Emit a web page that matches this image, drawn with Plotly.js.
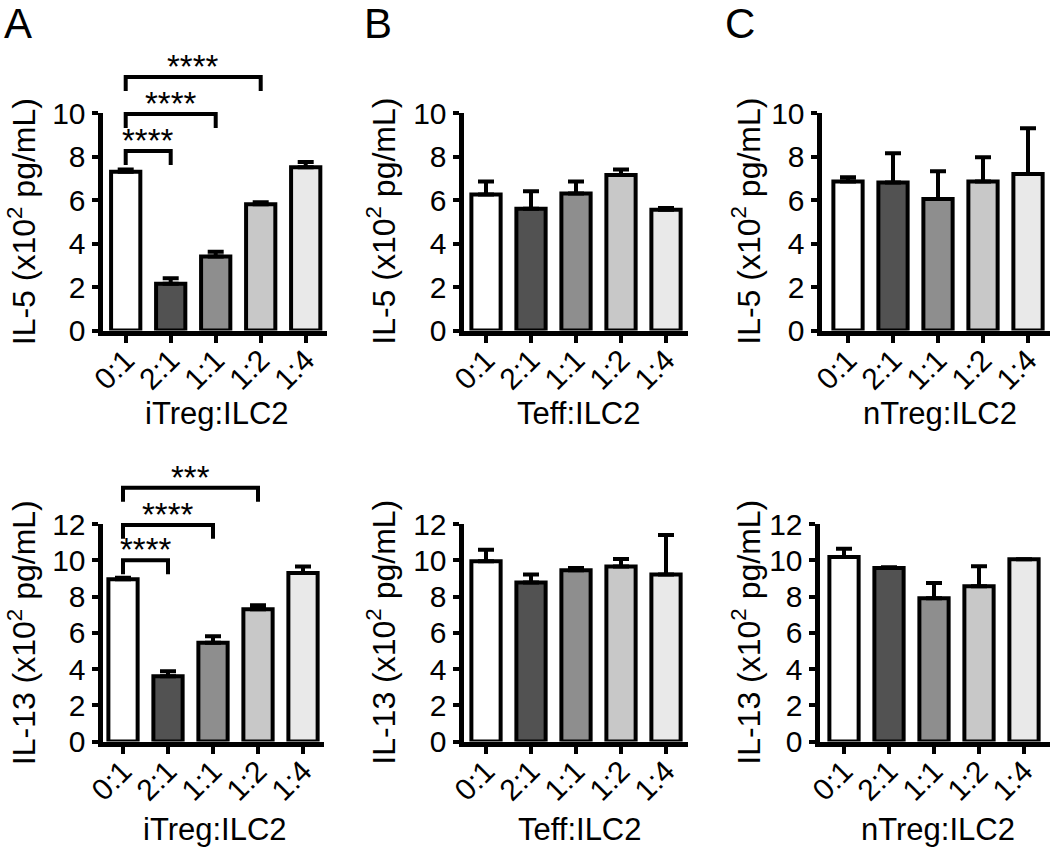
<!DOCTYPE html>
<html><head><meta charset="utf-8">
<script src="https://cdn.plot.ly/plotly-3.0.1.min.js"></script>
<style>html,body{margin:0;padding:0;background:#fff}</style>
</head><body><div id="chart" style="width:1050px;height:848px"></div>
<script>
// ---------- data ----------
const categories = ['0:1', '2:1', '1:1', '1:2', '1:4'];
const barColors = ['#ffffff', '#525252', '#8e8e8e', '#c8c8c8', '#e9e9e9'];

const il5_iTreg = [7.3, 2.15, 3.4, 5.8, 7.5];
const il5_iTreg_sem = [0.1, 0.25, 0.22, 0.1, 0.25];
const il5_Teff = [6.25, 5.6, 6.3, 7.15, 5.55];
const il5_Teff_sem = [0.6, 0.8, 0.55, 0.25, 0.08];
const il5_nTreg = [6.85, 6.8, 6.05, 6.85, 7.2];
const il5_nTreg_sem = [0.2, 1.35, 1.27, 1.12, 2.1];

const il13_iTreg = [8.95, 3.6, 5.45, 7.3, 9.3];
const il13_iTreg_sem = [0.08, 0.27, 0.36, 0.22, 0.36];
const il13_Teff = [9.95, 8.77, 9.45, 9.65, 9.22];
const il13_Teff_sem = [0.63, 0.44, 0.12, 0.42, 2.18];
const il13_nTreg = [10.18, 9.57, 7.9, 8.57, 10.05];
const il13_nTreg_sem = [0.45, 0.05, 0.85, 1.1, 0];

const il5_sigPairs = [['0:1', '2:1'], ['0:1', '1:1'], ['0:1', '1:2']];
const il5_sigLevels = [8.25, 9.95, 11.65];
const il5_sigLabels = ['****', '****', '****'];
const il13_sigPairs = [['0:1', '2:1'], ['0:1', '1:1'], ['0:1', '1:2']];
const il13_sigLevels = [10.0, 11.95, 14.0];
const il13_sigLabels = ['****', '****', '***'];

const xTitles = ['iTreg:ILC2', 'Teff:ILC2', 'nTreg:ILC2'];
const yTitles = ['IL-5 (x10<sup>2</sup> pg/mL)', 'IL-13 (x10<sup>2</sup> pg/mL)'];
const panelLetters = ['A', 'B', 'C'];
const yMax = [10, 12];

// ---------- layout geometry (px) ----------
const W = 1050, H = 848, AXW = 5, BARW = 4, STEP = 45;
const FONT = 'Liberation Sans, Arial, sans-serif';
const rows = [{top: 113, zero: 333, xTitleY: 413, legDrop: 0.64},
              {top: 524, zero: 744, xTitleY: 829, legDrop: 0.77}];
const cols = [{yTitleX: 21.5, xTitleX: [217, 215], letterX: 18},
              {yTitleX: 381, xTitleX: [579, 580], letterX: 378},
              {yTitleX: 746, xTitleX: [940, 938], letterX: 740}];
const panels = [
  {row: 0, col: 0, axisX: 100, cat0: 125.7, end: 327, y: il5_iTreg, e: il5_iTreg_sem},
  {row: 0, col: 1, axisX: 461, cat0: 486, end: 688, y: il5_Teff, e: il5_Teff_sem},
  {row: 0, col: 2, axisX: 819, cat0: 848, end: 1050, y: il5_nTreg, e: il5_nTreg_sem},
  {row: 1, col: 0, axisX: 100, cat0: 123, end: 324, y: il13_iTreg, e: il13_iTreg_sem},
  {row: 1, col: 1, axisX: 461, cat0: 486, end: 688, y: il13_Teff, e: il13_Teff_sem},
  {row: 1, col: 2, axisX: 817, cat0: 844, end: 1050, y: il13_nTreg, e: il13_nTreg_sem},
];

const data = [];
const layout = {
  width: W, height: H, margin: {l: 0, r: 0, t: 0, b: 0},
  paper_bgcolor: '#fff', plot_bgcolor: 'rgba(0,0,0,0)',
  showlegend: false, font: {family: FONT, color: '#000'},
  annotations: []
};

panels.forEach((p, i) => {
  const n = i + 1;
  const r = rows[p.row];
  const left = p.axisX + AXW / 2;
  const xdom = [left / W, Math.min(p.end / W, 1)];
  const xrange = [(left - p.cat0) / STEP, (p.end - p.cat0) / STEP];
  const bottom = r.zero - AXW / 2;
  const ydom = [1 - bottom / H, 1 - r.top / H];
  p.xdom = xdom; p.xrange = xrange; p.ydom = ydom;
  p.bottom = bottom;
  data.push({
    type: 'bar', x: categories.map((c, k) => k), y: p.y,
    xaxis: 'x' + n, yaxis: 'y' + n, width: 0.65,
    marker: {color: barColors, line: {color: '#000', width: BARW}},
    error_y: {type: 'data', symmetric: false, array: p.e, arrayminus: p.e.map(() => 0),
              color: '#000', thickness: BARW, width: 8},
    hoverinfo: 'skip'
  });
  layout['xaxis' + n] = {
    domain: xdom, range: xrange, anchor: 'y' + n, type: 'linear',
    tickvals: categories.map((c, k) => k), ticktext: categories,
    tickangle: -45, ticks: 'outside', ticklen: 7, tickwidth: BARW, tickcolor: '#000',
    ticklabelstandoff: -12,
    showline: true, linewidth: AXW, linecolor: '#000', showgrid: false, zeroline: false,
    tickfont: {family: FONT, size: 30, color: '#000'}, fixedrange: true
  };
  layout['yaxis' + n] = {
    domain: ydom, range: [0, yMax[p.row]], anchor: 'x' + n, dtick: 2,
    ticks: 'outside', ticklen: 6, tickwidth: BARW, tickcolor: '#000',
    showline: true, linewidth: AXW, linecolor: '#000', showgrid: false, zeroline: false,
    tickfont: {family: FONT, size: 30, color: '#000'}, fixedrange: true
  };
  // axis titles
  layout.annotations.push({
    xref: 'paper', yref: 'paper', x: cols[p.col].yTitleX / W, y: (ydom[0] + ydom[1]) / 2,
    text: yTitles[p.row], textangle: -90, showarrow: false,
    xanchor: 'center', yanchor: 'middle', font: {family: FONT, size: 32, color: '#000'}
  });
  layout.annotations.push({
    xref: 'paper', yref: 'paper', x: cols[p.col].xTitleX[p.row] / W, y: 1 - r.xTitleY / H,
    text: xTitles[p.col], showarrow: false,
    xanchor: 'center', yanchor: 'middle', font: {family: FONT, size: 31, color: '#000'}
  });
});

// panel letters
panelLetters.forEach((L, c) => {
  layout.annotations.push({
    xref: 'paper', yref: 'paper', x: cols[c].letterX / W, y: 1 - 23 / H,
    text: L, showarrow: false, xanchor: 'center', yanchor: 'middle',
    font: {family: FONT, size: 42, color: '#000'}
  });
});

// significance brackets on extra invisible subplots above panel A
function addBrackets(panelIdx, axN, pairs, levels, labels) {
  const p = panels[panelIdx];
  const r = rows[p.row];
  const ymaxExt = yMax[p.row] * p.bottom / (p.bottom - r.top);
  layout['xaxis' + axN] = {domain: p.xdom, range: p.xrange, anchor: 'y' + axN,
                           visible: false, fixedrange: true};
  layout['yaxis' + axN] = {domain: [p.ydom[0], 1], range: [0, ymaxExt], anchor: 'x' + axN,
                           visible: false, fixedrange: true};
  pairs.forEach((pr, k) => {
    const a = categories.indexOf(pr[0]), b = categories.indexOf(pr[1]);
    const lv = levels[k], lo = lv - r.legDrop;
    data.push({
      type: 'scatter', mode: 'lines', x: [a, a, b, b], y: [lo, lv, lv, lo],
      xaxis: 'x' + axN, yaxis: 'y' + axN, cliponaxis: false,
      line: {color: '#000', width: BARW}, hoverinfo: 'skip'
    });
    layout.annotations.push({
      xref: 'x' + axN, yref: 'y' + axN, x: (a + b) / 2, y: lv,
      text: labels[k], showarrow: false, xanchor: 'center', yanchor: 'bottom', yshift: -10,
      font: {family: FONT, size: 33, color: '#000'}
    });
  });
}
addBrackets(0, 7, il5_sigPairs, il5_sigLevels, il5_sigLabels);
addBrackets(3, 8, il13_sigPairs, il13_sigLevels, il13_sigLabels);

Plotly.newPlot('chart', data, layout, {displayModeBar: false, staticPlot: true});
</script>
</body></html>
